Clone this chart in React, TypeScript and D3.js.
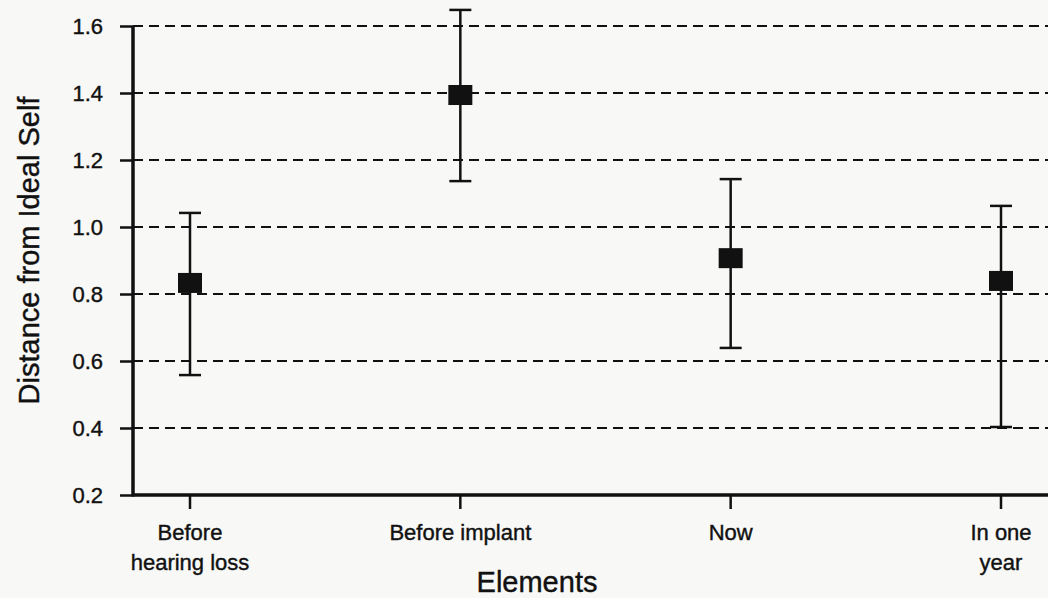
import React, { useRef, useEffect } from 'react';
import * as d3 from 'd3';

// Data
const categories = ['Before hearing loss', 'Before implant', 'Now', 'In one year'];
const labelLines = [['Before', 'hearing loss'], ['Before implant'], ['Now'], ['In one', 'year']];
const means = [0.833, 1.394, 0.907, 0.839];
const upper = [1.042, 1.648, 1.143, 1.063];
const lower = [0.558, 1.137, 0.639, 0.403];
const yTicks = [0.2, 0.4, 0.6, 0.8, 1.0, 1.2, 1.4, 1.6];

const App = () => {
  const svgRef = useRef(null);

  useEffect(() => {
    const width = 1048;
    const height = 598;
    const margin = { top: 26, right: 0, bottom: 103, left: 133 };
    const font = 'Helvetica, Arial, "Liberation Sans", sans-serif';
    const ink = '#111';

    const svg = d3.select(svgRef.current);
    svg.selectAll('*').remove();
    svg.attr('width', width).attr('height', height);

    svg.append('rect').attr('width', width).attr('height', height).attr('fill', '#f8f8f7');

    const y = d3.scaleLinear()
      .domain([0.2, 1.6])
      .range([height - margin.bottom, margin.top]);

    const x = d3.scalePoint()
      .domain(categories)
      .range([margin.left + 57, margin.left + 868]);

    // dashed grid lines
    svg.append('g')
      .selectAll('line')
      .data(yTicks.filter(d => d > 0.2))
      .join('line')
      .attr('x1', margin.left)
      .attr('x2', width)
      .attr('y1', d => y(d))
      .attr('y2', d => y(d))
      .attr('stroke', ink)
      .attr('stroke-width', 2.2)
      .attr('stroke-dasharray', '10,6');

    // y axis
    const yAxis = svg.append('g')
      .attr('transform', `translate(${margin.left},0)`)
      .call(d3.axisLeft(y).tickValues(yTicks).tickFormat(d3.format('.1f')).tickSize(13).tickPadding(17));
    yAxis.select('.domain').remove();
    yAxis.selectAll('line').attr('stroke', ink).attr('stroke-width', 2.5);
    yAxis.selectAll('text')
      .attr('font-family', font)
      .attr('font-size', 22)
      .attr('fill', ink)
      .attr('stroke', ink)
      .attr('stroke-width', 0.4);
    svg.append('line')
      .attr('x1', margin.left).attr('x2', margin.left)
      .attr('y1', y(1.6)).attr('y2', y(0.2) + 1.5)
      .attr('stroke', ink).attr('stroke-width', 3.5);

    // x axis
    svg.append('line')
      .attr('x1', margin.left).attr('x2', width)
      .attr('y1', y(0.2)).attr('y2', y(0.2))
      .attr('stroke', ink).attr('stroke-width', 3.5);
    svg.append('g')
      .selectAll('line')
      .data(categories)
      .join('line')
      .attr('x1', d => x(d))
      .attr('x2', d => x(d))
      .attr('y1', y(0.2))
      .attr('y2', y(0.2) + 14)
      .attr('stroke', ink)
      .attr('stroke-width', 2.5);

    // category labels
    const labels = svg.append('g')
      .selectAll('text')
      .data(categories)
      .join('text')
      .attr('text-anchor', 'middle')
      .attr('font-family', font)
      .attr('font-size', 22)
      .attr('fill', ink)
      .attr('stroke', ink)
      .attr('stroke-width', 0.4)
      .attr('transform', d => `translate(${x(d)},${y(0.2) + 45})`);
    labels.each(function (d, i) {
      d3.select(this).selectAll('tspan')
        .data(labelLines[i])
        .join('tspan')
        .attr('x', 0)
        .attr('dy', (t, j) => (j === 0 ? 0 : 30))
        .text(t => t);
    });

    // error bars
    const capW = 22;
    const bars = svg.append('g')
      .selectAll('g')
      .data(categories)
      .join('g')
      .attr('stroke', ink)
      .attr('stroke-width', 2.5);
    bars.append('line')
      .attr('x1', d => x(d)).attr('x2', d => x(d))
      .attr('y1', (d, i) => y(upper[i])).attr('y2', (d, i) => y(lower[i]));
    bars.append('line')
      .attr('x1', d => x(d) - capW / 2).attr('x2', d => x(d) + capW / 2)
      .attr('y1', (d, i) => y(upper[i])).attr('y2', (d, i) => y(upper[i]));
    bars.append('line')
      .attr('x1', d => x(d) - capW / 2).attr('x2', d => x(d) + capW / 2)
      .attr('y1', (d, i) => y(lower[i])).attr('y2', (d, i) => y(lower[i]));

    // mean markers
    const sw = 24;
    const sh = 20;
    svg.append('g')
      .selectAll('rect')
      .data(categories)
      .join('rect')
      .attr('x', d => x(d) - sw / 2)
      .attr('y', (d, i) => y(means[i]) - sh / 2)
      .attr('width', sw)
      .attr('height', sh)
      .attr('fill', ink);

    // axis titles
    svg.append('text')
      .attr('x', 537)
      .attr('y', 592)
      .attr('text-anchor', 'middle')
      .attr('font-family', font)
      .attr('font-size', 29)
      .attr('fill', ink)
      .attr('stroke', ink)
      .attr('stroke-width', 0.4)
      .text('Elements');

    svg.append('text')
      .attr('transform', `translate(39,${(y(1.6) + y(0.2)) / 2 - 10}) rotate(-90)`)
      .attr('text-anchor', 'middle')
      .attr('font-family', font)
      .attr('font-size', 29)
      .attr('fill', ink)
      .attr('stroke', ink)
      .attr('stroke-width', 0.4)
      .text('Distance from Ideal Self');
  }, []);

  return <svg ref={svgRef} style={{ position: 'absolute', left: 0, top: 0 }}></svg>;
};

export default App;
